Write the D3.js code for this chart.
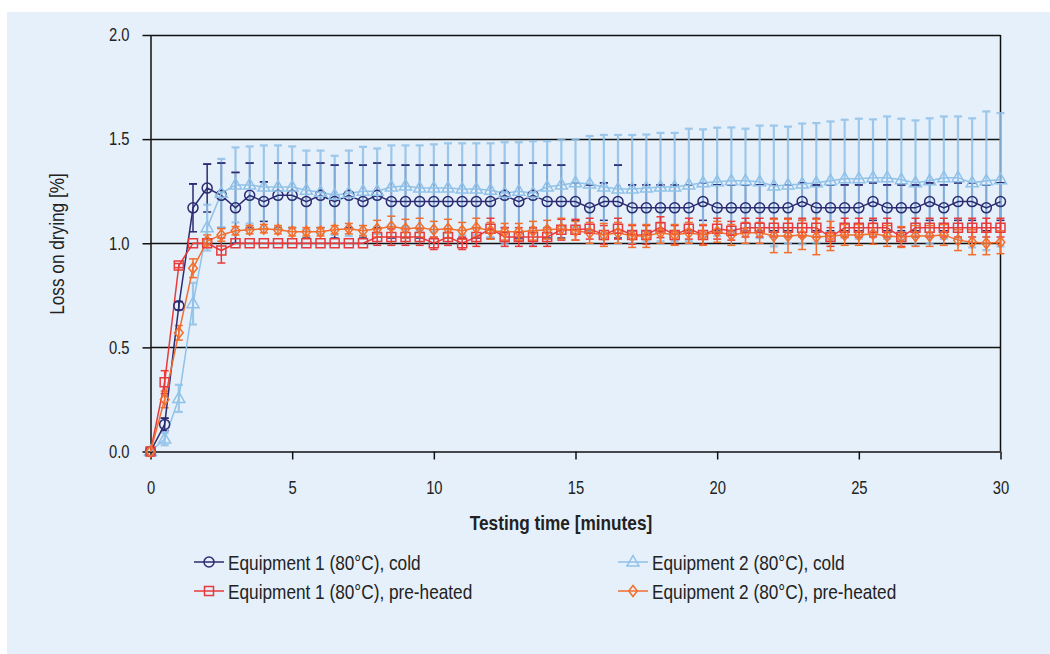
<!DOCTYPE html>
<html><head><meta charset="utf-8">
<script src="https://cdn.jsdelivr.net/npm/d3@7"></script>
<style>
html,body{margin:0;padding:0;background:#fff;}
svg{display:block;}
text{font-family:"Liberation Sans",Arial,sans-serif;fill:#222;}
</style></head>
<body>
<svg id="c" width="1050" height="654"></svg>
<script>
const times = [0,0.5,1,1.5,2,2.5,3,3.5,4,4.5,5,5.5,6,6.5,7,7.5,8,8.5,9,9.5,10,10.5,11,11.5,12,12.5,13,13.5,14,14.5,15,15.5,16,16.5,17,17.5,18,18.5,19,19.5,20,20.5,21,21.5,22,22.5,23,23.5,24,24.5,25,25.5,26,26.5,27,27.5,28,28.5,29,29.5,30];

const e1Cold = [0,0.13,0.70,1.17,1.265,1.23,1.17,1.23,1.20,1.23,1.23,1.20,1.23,1.20,1.23,1.20,1.23,1.20,1.20,1.20,1.20,1.20,1.20,1.20,1.20,1.23,1.20,1.23,1.20,1.20,1.20,1.17,1.20,1.20,1.17,1.17,1.17,1.17,1.17,1.20,1.17,1.17,1.17,1.17,1.17,1.17,1.20,1.17,1.17,1.17,1.17,1.20,1.17,1.17,1.17,1.20,1.17,1.20,1.20,1.17,1.20];
const e1ColdErr = [0,0.03,0.02,0.115,0.115,0.155,0.17,0.155,0.095,0.155,0.155,0.175,0.155,0.175,0.155,0.175,0.155,0.175,0.175,0.175,0.175,0.175,0.175,0.175,0.175,0.155,0.175,0.155,0.175,0.175,0.09,0.11,0.09,0.175,0.11,0.11,0.11,0.11,0.11,0.09,0.11,0.11,0.11,0.11,0.11,0.11,0.09,0.11,0.11,0.11,0.11,0.09,0.11,0.11,0.11,0.09,0.11,0.09,0.09,0.11,0.09];

const e2Cold = [0,0.06,0.255,0.71,1.075,1.24,1.28,1.28,1.27,1.27,1.27,1.255,1.245,1.23,1.24,1.25,1.25,1.27,1.275,1.265,1.265,1.265,1.26,1.26,1.255,1.24,1.25,1.24,1.27,1.28,1.29,1.285,1.27,1.26,1.26,1.265,1.27,1.27,1.28,1.29,1.295,1.30,1.30,1.295,1.275,1.28,1.285,1.29,1.30,1.31,1.31,1.315,1.315,1.305,1.29,1.30,1.315,1.315,1.29,1.30,1.305];
const e2ColdErr = [0,0.03,0.065,0.10,0.11,0.165,0.18,0.185,0.20,0.20,0.195,0.19,0.20,0.19,0.205,0.213,0.205,0.20,0.195,0.205,0.21,0.215,0.22,0.22,0.225,0.245,0.235,0.25,0.22,0.215,0.21,0.23,0.25,0.26,0.26,0.257,0.26,0.26,0.27,0.257,0.26,0.256,0.25,0.27,0.29,0.28,0.29,0.287,0.285,0.283,0.288,0.28,0.294,0.293,0.30,0.30,0.294,0.294,0.31,0.333,0.32];

const e1Pre = [0,0.333,0.893,1.0,1.0,0.965,1.0,1.0,1.0,1.0,1.0,1.0,1.0,1.0,1.0,1.0,1.03,1.03,1.03,1.03,1.0,1.03,1.0,1.03,1.07,1.03,1.03,1.03,1.03,1.065,1.065,1.07,1.04,1.07,1.04,1.04,1.077,1.04,1.07,1.04,1.07,1.06,1.075,1.075,1.075,1.075,1.075,1.075,1.03,1.075,1.075,1.075,1.075,1.03,1.075,1.075,1.075,1.075,1.075,1.075,1.075];
const e1PreErr = [0,0.055,0.01,0,0,0.06,0,0,0,0,0,0,0,0,0,0,0.04,0.04,0.04,0.04,0.03,0.04,0.03,0.045,0.05,0.045,0.045,0.045,0.045,0.05,0.05,0.05,0.045,0.05,0.045,0.045,0.05,0.045,0.05,0.045,0.05,0.045,0.045,0.045,0.045,0.045,0.045,0.045,0.045,0.045,0.045,0.045,0.045,0.045,0.045,0.045,0.045,0.045,0.045,0.045,0.045];

const e2Pre = [0,0.25,0.57,0.88,1.01,1.04,1.06,1.065,1.07,1.065,1.055,1.055,1.055,1.065,1.07,1.06,1.07,1.08,1.07,1.075,1.065,1.07,1.06,1.075,1.06,1.055,1.055,1.06,1.065,1.07,1.06,1.05,1.04,1.05,1.035,1.035,1.05,1.04,1.05,1.04,1.055,1.04,1.05,1.05,1.035,1.035,1.04,1.03,1.035,1.04,1.04,1.045,1.035,1.03,1.035,1.035,1.04,1.015,1.005,1.0,1.005];
const e2PreErr = [0,0.04,0.035,0.045,0.03,0.03,0.02,0.02,0.02,0.02,0.02,0.02,0.02,0.02,0.025,0.025,0.04,0.05,0.045,0.045,0.04,0.045,0.04,0.045,0.04,0.04,0.04,0.045,0.045,0.05,0.045,0.05,0.055,0.05,0.055,0.055,0.05,0.05,0.05,0.05,0.05,0.05,0.05,0.05,0.08,0.08,0.07,0.085,0.07,0.05,0.05,0.05,0.05,0.05,0.05,0.05,0.05,0.05,0.06,0.055,0.055];

const xTicks = [0,5,10,15,20,25,30];
const yTicks = [0,0.5,1.0,1.5,2.0];
const seriesNames = ["Equipment 1 (80°C), cold","Equipment 2 (80°C), cold","Equipment 1 (80°C), pre-heated","Equipment 2 (80°C), pre-heated"];
const xTitle = "Testing time [minutes]";
const yTitle = "Loss on drying [%]";

const colors = {e1c:"#2c2b72", e2c:"#90c1e8", e1p:"#e83a3a", e2p:"#f26e2c"};
const NARROW = 0.82;

const svg = d3.select("#c");
svg.append("rect").attr("x",7).attr("y",12).attr("width",1043).attr("height",642).attr("fill","#e5f0fa");

const x = d3.scaleLinear().domain([0,30]).range([150.5,1000.5]);
const y = d3.scaleLinear().domain([0,2]).range([451.5,35]);

function narrow(sel){
  sel.each(function(){
    const w = this.getComputedTextLength();
    d3.select(this).attr("textLength", (w*NARROW).toFixed(2)).attr("lengthAdjust","spacingAndGlyphs");
  });
}

// grid lines
svg.append("g").selectAll("line").data(yTicks.filter(d=>d>0)).join("line")
  .attr("x1",x(0)).attr("x2",x(30)).attr("y1",d=>Math.round(y(d))+0.5).attr("y2",d=>Math.round(y(d))+0.5)
  .attr("stroke","#111").attr("stroke-width",1.5);
svg.append("line").attr("x1",x(30)).attr("x2",x(30)).attr("y1",y(2)).attr("y2",y(0)).attr("stroke","#111").attr("stroke-width",1.5);

// axes
const xAxis = d3.axisBottom(x).tickValues(xTicks).tickSize(8).tickPadding(22).tickFormat(d3.format("d"));
const gx = svg.append("g").attr("transform",`translate(0,${y(0)})`).call(xAxis);
const yAxis = d3.axisLeft(y).tickValues(yTicks).tickSize(8).tickPadding(13).tickFormat(d3.format(".1f"));
const gy = svg.append("g").attr("transform",`translate(${x(0)},0)`).call(yAxis);
[gx,gy].forEach(g=>{
  g.select(".domain").attr("stroke","#111").attr("stroke-width",1.5);
  g.selectAll(".tick line").attr("stroke","#111").attr("stroke-width",1.5);
  g.selectAll(".tick text").attr("font-family",null).style("font-size","18px").attr("fill","#222").call(narrow);
});
gy.select(".domain").attr("d",`M0.5,${y(2)}V${y(0)}`);
gx.select(".domain").attr("d",`M${x(0)},0.5H${x(30)}`);

svg.append("text").attr("x",561).attr("y",530).attr("text-anchor","middle")
  .style("font-size","21px").style("font-weight","bold").text(xTitle).call(narrow);
svg.append("text").attr("transform","translate(64,244) rotate(-90)").attr("text-anchor","middle")
  .style("font-size","21px").text(yTitle).call(narrow);

const series = [
  {key:"e1c", v:e1Cold, e:e1ColdErr, sym:"circle"},
  {key:"e2c", v:e2Cold, e:e2ColdErr, sym:"triangle"},
  {key:"e1p", v:e1Pre, e:e1PreErr, sym:"square"},
  {key:"e2p", v:e2Pre, e:e2PreErr, sym:"diamond"}
];

function symPath(type){
  switch(type){
    case "circle": return d3.arc()({innerRadius:0,outerRadius:5,startAngle:0,endAngle:2*Math.PI});
    case "square": return "M-4.5,-4.5H4.5V4.5H-4.5Z";
    case "triangle": return "M0,-6.5L6,4H-6Z";
    case "diamond": return "M0,-5.5L4.3,0L0,5.5L-4.3,0Z";
  }
}

function errBars(s, width, opacity, caps){
  const g = svg.append("g").attr("stroke",colors[s.key]).attr("stroke-width",width).attr("opacity",opacity);
  const d = times.map((t,i)=>({t, v:s.v[i], e:s.e[i]})).filter(d=>d.e>0);
  g.selectAll("line.v").data(d).join("line").attr("class","v")
    .attr("x1",d=>x(d.t)).attr("x2",d=>x(d.t)).attr("y1",d=>y(d.v+d.e)).attr("y2",d=>y(d.v-d.e));
  if(caps){
    ["up","dn"].forEach(k=>{
      g.selectAll("line."+k).data(d).join("line").attr("class",k)
        .attr("x1",d=>x(d.t)-4).attr("x2",d=>x(d.t)+4)
        .attr("y1",d=>y(k==="up"?d.v+d.e:d.v-d.e)).attr("y2",d=>y(k==="up"?d.v+d.e:d.v-d.e));
    });
  }
  return g;
}

errBars(series[0],1.5,1,true);
errBars(series[1],2.2,0.85,true);
(function(){
  const s=series[0];
  const d = times.map((t,i)=>({t, v:s.v[i], e:s.e[i]})).filter(d=>d.e>0);
  const g=svg.append("g").attr("stroke",colors.e1c).attr("stroke-width",1.5);
  g.selectAll("line").data(d).join("line").attr("x1",d=>x(d.t)-4).attr("x2",d=>x(d.t)+4)
    .attr("y1",d=>y(d.v+d.e)).attr("y2",d=>y(d.v+d.e));
})();
errBars(series[2],1.5,1,true);
errBars(series[3],1.5,1,true);

const line = d3.line().x(d=>x(d.t)).y(d=>y(d.v));
series.forEach(s=>{
  const d = times.map((t,i)=>({t, v:s.v[i]}));
  svg.append("path").datum(d).attr("d",line).attr("fill","none").attr("stroke",colors[s.key]).attr("stroke-width",1.5);
});
series.forEach(s=>{
  const d = times.map((t,i)=>({t, v:s.v[i]}));
  svg.append("g").selectAll("path").data(d).join("path")
    .attr("transform",d=>`translate(${x(d.t)},${y(d.v)})`).attr("d",symPath(s.sym))
    .attr("fill","none").attr("stroke",colors[s.key]).attr("stroke-width",1.5);
});

// legend
const legendPos = [
  {lx:194, ly:562}, {lx:618, ly:562}, {lx:194, ly:591}, {lx:618, ly:591}
];
series.forEach((s,i)=>{
  const p = legendPos[i];
  const g = svg.append("g").attr("transform",`translate(${p.lx},${p.ly})`);
  g.append("line").attr("x1",0).attr("x2",30).attr("y1",0).attr("y2",0).attr("stroke",colors[s.key]).attr("stroke-width",1.5);
  g.append("path").attr("transform","translate(15,0)").attr("d",symPath(s.sym)).attr("fill","none").attr("stroke",colors[s.key]).attr("stroke-width",1.5);
  g.append("text").attr("x",34).attr("y",7.5).style("font-size","21px").text(seriesNames[i]).call(narrow);
});
</script>
</body></html>
